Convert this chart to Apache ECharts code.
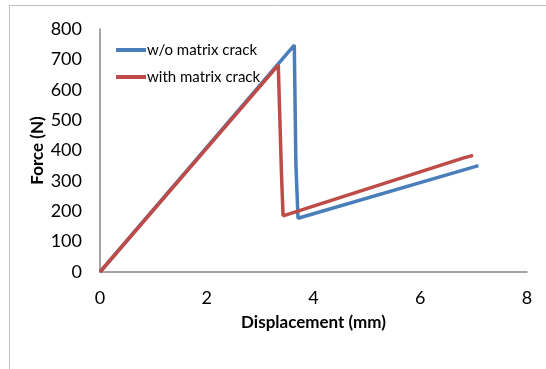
<!DOCTYPE html>
<html><head><meta charset="utf-8">
<script src="https://cdn.jsdelivr.net/npm/echarts@6/dist/echarts.min.js"></script>
<style>html,body{margin:0;padding:0;background:#fff}#c{width:546px;height:369px}</style>
</head><body><div id="c"></div>
<script>
const seriesNames = ["w/o matrix crack", "with matrix crack"];
const blueX = [0, 3.64, 3.67, 3.71, 7.09];
const blueY = [0, 747, 356, 177, 350];
const redX = [0, 3.34, 3.40, 3.43, 6.80, 6.99];
const redY = [0, 681, 323, 185, 375, 384];
const xTicks = [0, 2, 4, 6, 8];
const yTicks = [0, 100, 200, 300, 400, 500, 600, 700, 800];
const xTitle = "Displacement (mm)";
const yTitle = "Force (N)";
const colors = ["#4A7EBB", "#BE4B48"];

const pair = (xs, ys) => xs.map((x, i) => [x, ys[i]]);
const font = "Lato, 'Liberation Sans', sans-serif";
const chart = echarts.init(document.getElementById('c'), null, {renderer: 'canvas'});
chart.setOption({
  animation: false,
  backgroundColor: '#fff',
  graphic: [{type: 'rect', shape: {x: 9.5, y: 5.5, width: 600, height: 400}, style: {fill: 'none', stroke: '#bfbfbf', lineWidth: 1}, silent: true}],
  grid: {left: 100, right: 19, top: 29, bottom: 97},
  legend: {
    orient: 'vertical', left: 111, top: 36,
    itemWidth: 30, itemHeight: 4, itemGap: 9, icon: 'rect',
    data: seriesNames,
    textStyle: {fontFamily: font, fontSize: 15, color: '#000', lineHeight: 18, padding: [0, 0, 0, -4]}
  },
  xAxis: {
    type: 'value', min: xTicks[0], max: xTicks[xTicks.length - 1], interval: 2,
    name: xTitle, nameLocation: 'middle', nameGap: 42, nameMoveOverlap: false,
    nameTextStyle: {fontFamily: font, fontSize: 17, fontWeight: 'bold', color: '#000'},
    axisLine: {lineStyle: {color: '#868686', width: 1.5}},
    axisTick: {show: false}, splitLine: {show: false},
    axisLabel: {fontFamily: font, fontSize: 18, color: '#000', margin: 17}
  },
  yAxis: {
    type: 'value', min: yTicks[0], max: yTicks[yTicks.length - 1], interval: 100,
    name: yTitle, nameLocation: 'middle', nameGap: 54, nameMoveOverlap: false,
    nameTextStyle: {fontFamily: font, fontSize: 17, fontWeight: 'bold', color: '#000'},
    axisLine: {show: true, lineStyle: {color: '#868686', width: 1.5}},
    axisTick: {show: false}, splitLine: {show: false},
    axisLabel: {fontFamily: font, fontSize: 18, color: '#000', margin: 18}
  },
  series: [
    {name: seriesNames[0], type: 'line', data: pair(blueX, blueY), showSymbol: false, color: colors[0], lineStyle: {width: 3.5, color: colors[0]}},
    {name: seriesNames[1], type: 'line', data: pair(redX, redY), showSymbol: false, color: colors[1], lineStyle: {width: 3.5, color: colors[1]}}
  ]
});
</script></body></html>
